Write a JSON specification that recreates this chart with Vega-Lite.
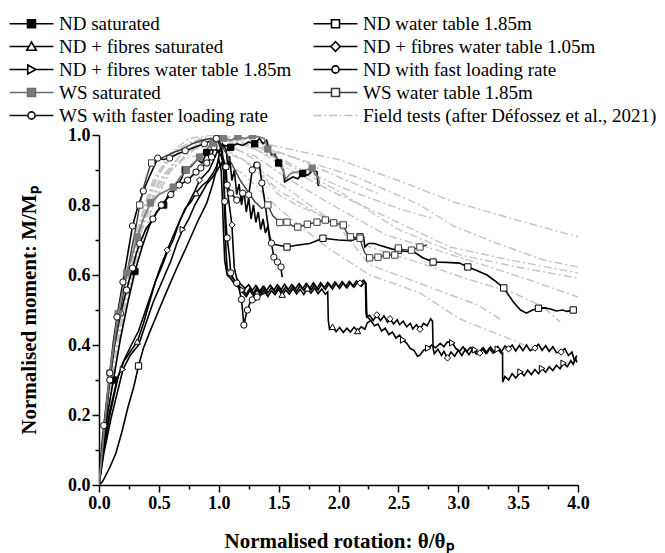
{
  "$schema": "https://vega.github.io/schema/vega-lite/v6.json",
  "width": 479,
  "height": 350,
  "autosize": {"type": "none"},
  "padding": {"left": 99, "top": 135, "right": 87, "bottom": 68},
  "background": "white",
  "config": {
    "font": "Liberation Serif",
    "view": {"stroke": null},
    "axis": {"grid": false, "domainColor": "#000", "domainWidth": 1.5, "tickColor": "#000", "tickWidth": 1.5, "labelFont": "Liberation Serif", "labelFontSize": 18, "labelFontWeight": "bold", "labelColor": "#000", "labelPadding": 2, "labelFlush": false, "labelOverlap": false, "titleFont": "Liberation Serif", "titleFontSize": 21, "titleFontWeight": "bold", "titleColor": "#000"},
    "legend": {"title": null, "orient": "none", "legendX": -77, "legendY": -121, "columns": 2, "columnPadding": 18, "rowPadding": 3, "gridAlign": "each", "symbolSize": 100, "symbolStrokeWidth": 1.6, "symbolOpacity": 1, "labelFont": "Liberation Serif", "labelFontSize": 19, "labelColor": "#000", "labelOffset": 18, "labelLimit": 400}
  },
  "datasets": {
    "names": [
      {"id": "S1", "series": "ND saturated"},
      {"id": "S2", "series": "ND water table 1.85m"},
      {"id": "S3", "series": "ND + fibres saturated"},
      {"id": "S4", "series": "ND + fibres water table 1.05m"},
      {"id": "S5", "series": "ND + fibres water table 1.85m"},
      {"id": "S6", "series": "ND with fast loading rate"},
      {"id": "S7", "series": "WS saturated"},
      {"id": "S8", "series": "WS water table 1.85m"},
      {"id": "S9", "series": "WS with faster loading rate"}
    ],
    "field": [
      {"curve":"F1","x":0,"y":0},{"curve":"F1","x":0.05,"y":0.16},{"curve":"F1","x":0.1,"y":0.3},{"curve":"F1","x":0.2,"y":0.54},{"curve":"F1","x":0.3,"y":0.71},{"curve":"F1","x":0.45,"y":0.87},{"curve":"F1","x":0.6,"y":0.95},{"curve":"F1","x":0.75,"y":0.99},{"curve":"F1","x":0.95,"y":1.0},{"curve":"F1","x":1.2,"y":0.99},{"curve":"F1","x":1.5,"y":0.966},{"curve":"F1","x":2.0,"y":0.93},{"curve":"F1","x":2.5,"y":0.87},{"curve":"F1","x":2.96,"y":0.809},{"curve":"F1","x":3.49,"y":0.757},{"curve":"F1","x":4.0,"y":0.709},
      {"curve":"F2","x":0,"y":0},{"curve":"F2","x":0.06,"y":0.18},{"curve":"F2","x":0.14,"y":0.39},{"curve":"F2","x":0.25,"y":0.6},{"curve":"F2","x":0.35,"y":0.75},{"curve":"F2","x":0.5,"y":0.89},{"curve":"F2","x":0.65,"y":0.96},{"curve":"F2","x":0.85,"y":0.99},{"curve":"F2","x":1.1,"y":0.985},{"curve":"F2","x":1.51,"y":0.948},{"curve":"F2","x":2.15,"y":0.88},{"curve":"F2","x":2.68,"y":0.8},{"curve":"F2","x":2.96,"y":0.74},{"curve":"F2","x":3.32,"y":0.691},{"curve":"F2","x":3.71,"y":0.643},{"curve":"F2","x":4.0,"y":0.623},
      {"curve":"F3","x":0,"y":0},{"curve":"F3","x":0.08,"y":0.21},{"curve":"F3","x":0.18,"y":0.43},{"curve":"F3","x":0.3,"y":0.63},{"curve":"F3","x":0.45,"y":0.8},{"curve":"F3","x":0.6,"y":0.9},{"curve":"F3","x":0.8,"y":0.97},{"curve":"F3","x":1.0,"y":0.99},{"curve":"F3","x":1.3,"y":0.96},{"curve":"F3","x":1.6,"y":0.9},{"curve":"F3","x":2.0,"y":0.83},{"curve":"F3","x":2.5,"y":0.75},{"curve":"F3","x":2.93,"y":0.68},{"curve":"F3","x":3.43,"y":0.643},{"curve":"F3","x":4.0,"y":0.606},
      {"curve":"F4","x":0,"y":0},{"curve":"F4","x":0.04,"y":0.14},{"curve":"F4","x":0.12,"y":0.36},{"curve":"F4","x":0.24,"y":0.6},{"curve":"F4","x":0.36,"y":0.77},{"curve":"F4","x":0.5,"y":0.89},{"curve":"F4","x":0.66,"y":0.96},{"curve":"F4","x":0.88,"y":0.995},{"curve":"F4","x":1.2,"y":0.975},{"curve":"F4","x":1.5,"y":0.93},{"curve":"F4","x":2.0,"y":0.84},{"curve":"F4","x":2.5,"y":0.73},{"curve":"F4","x":3.02,"y":0.657},{"curve":"F4","x":3.49,"y":0.623},{"curve":"F4","x":4.0,"y":0.591},
      {"curve":"F5","x":0,"y":0},{"curve":"F5","x":0.07,"y":0.19},{"curve":"F5","x":0.17,"y":0.41},{"curve":"F5","x":0.3,"y":0.63},{"curve":"F5","x":0.45,"y":0.8},{"curve":"F5","x":0.6,"y":0.9},{"curve":"F5","x":0.8,"y":0.96},{"curve":"F5","x":1.0,"y":0.975},{"curve":"F5","x":1.3,"y":0.94},{"curve":"F5","x":1.6,"y":0.87},{"curve":"F5","x":2.0,"y":0.79},{"curve":"F5","x":2.4,"y":0.714},{"curve":"F5","x":2.82,"y":0.671},{"curve":"F5","x":3.2,"y":0.63},{"curve":"F5","x":3.6,"y":0.585},{"curve":"F5","x":4.0,"y":0.537},
      {"curve":"F6","x":0,"y":0},{"curve":"F6","x":0.05,"y":0.15},{"curve":"F6","x":0.12,"y":0.34},{"curve":"F6","x":0.22,"y":0.55},{"curve":"F6","x":0.35,"y":0.74},{"curve":"F6","x":0.5,"y":0.87},{"curve":"F6","x":0.7,"y":0.95},{"curve":"F6","x":0.9,"y":0.97},{"curve":"F6","x":1.2,"y":0.93},{"curve":"F6","x":1.51,"y":0.84},{"curve":"F6","x":2.0,"y":0.74},{"curve":"F6","x":2.26,"y":0.68},{"curve":"F6","x":2.68,"y":0.634},{"curve":"F6","x":3.1,"y":0.586},{"curve":"F6","x":3.46,"y":0.549},{"curve":"F6","x":3.71,"y":0.509},{"curve":"F6","x":3.85,"y":0.466},
      {"curve":"F7","x":0,"y":0},{"curve":"F7","x":0.06,"y":0.19},{"curve":"F7","x":0.15,"y":0.41},{"curve":"F7","x":0.27,"y":0.61},{"curve":"F7","x":0.4,"y":0.78},{"curve":"F7","x":0.55,"y":0.88},{"curve":"F7","x":0.7,"y":0.93},{"curve":"F7","x":0.9,"y":0.95},{"curve":"F7","x":1.2,"y":0.89},{"curve":"F7","x":1.5,"y":0.79},{"curve":"F7","x":1.9,"y":0.68},{"curve":"F7","x":2.26,"y":0.6},{"curve":"F7","x":2.68,"y":0.549},{"curve":"F7","x":3.0,"y":0.477},{"curve":"F7","x":3.18,"y":0.451},{"curve":"F7","x":3.46,"y":0.414},{"curve":"F7","x":3.55,"y":0.4},
      {"curve":"F8","x":0,"y":0},{"curve":"F8","x":0.04,"y":0.15},{"curve":"F8","x":0.1,"y":0.32},{"curve":"F8","x":0.2,"y":0.55},{"curve":"F8","x":0.3,"y":0.7},{"curve":"F8","x":0.45,"y":0.86},{"curve":"F8","x":0.6,"y":0.94},{"curve":"F8","x":0.8,"y":0.98},{"curve":"F8","x":1.0,"y":0.97},{"curve":"F8","x":1.3,"y":0.91},{"curve":"F8","x":1.6,"y":0.84},{"curve":"F8","x":2.0,"y":0.74},{"curve":"F8","x":2.26,"y":0.629},{"curve":"F8","x":2.54,"y":0.594},{"curve":"F8","x":2.96,"y":0.54},{"curve":"F8","x":3.16,"y":0.515},{"curve":"F8","x":3.37,"y":0.47},
      {"curve":"F9","x":0,"y":0},{"curve":"F9","x":0.1,"y":0.29},{"curve":"F9","x":0.2,"y":0.51},{"curve":"F9","x":0.35,"y":0.73},{"curve":"F9","x":0.5,"y":0.87},{"curve":"F9","x":0.7,"y":0.95},{"curve":"F9","x":0.9,"y":0.99},{"curve":"F9","x":1.2,"y":0.985},{"curve":"F9","x":1.6,"y":0.94},{"curve":"F9","x":2.0,"y":0.88},{"curve":"F9","x":2.35,"y":0.83},
      {"curve":"F10","x":0,"y":0},{"curve":"F10","x":0.05,"y":0.17},{"curve":"F10","x":0.13,"y":0.38},{"curve":"F10","x":0.25,"y":0.62},{"curve":"F10","x":0.4,"y":0.82},{"curve":"F10","x":0.55,"y":0.92},{"curve":"F10","x":0.75,"y":0.98},{"curve":"F10","x":1.0,"y":0.995},{"curve":"F10","x":1.3,"y":0.97},{"curve":"F10","x":1.7,"y":0.9},{"curve":"F10","x":2.1,"y":0.84},{"curve":"F10","x":2.5,"y":0.79},{"curve":"F10","x":2.8,"y":0.76},
      {"curve":"F11","x":0,"y":0},{"curve":"F11","x":0.08,"y":0.22},{"curve":"F11","x":0.2,"y":0.48},{"curve":"F11","x":0.35,"y":0.72},{"curve":"F11","x":0.5,"y":0.86},{"curve":"F11","x":0.7,"y":0.95},{"curve":"F11","x":0.9,"y":0.98},{"curve":"F11","x":1.1,"y":0.97},{"curve":"F11","x":1.3,"y":0.93},{"curve":"F11","x":1.42,"y":0.86},{"curve":"F11","x":1.5,"y":0.83},{"curve":"F11","x":1.65,"y":0.8},{"curve":"F11","x":1.85,"y":0.77},{"curve":"F11","x":2.1,"y":0.74}
    ],
    "tests": [
      {"id":"S1","x":0,"y":0},{"id":"S1","x":0.03,"y":0.09},{"id":"S1","x":0.07,"y":0.2},{"id":"S1","x":0.12,"y":0.3},{"id":"S1","x":0.18,"y":0.42},{"id":"S1","x":0.24,"y":0.52},{"id":"S1","x":0.3,"y":0.61},{"id":"S1","x":0.36,"y":0.68},{"id":"S1","x":0.42,"y":0.74},{"id":"S1","x":0.48,"y":0.78},{"id":"S1","x":0.54,"y":0.8},{"id":"S1","x":0.58,"y":0.83},{"id":"S1","x":0.63,"y":0.85},{"id":"S1","x":0.68,"y":0.87},{"id":"S1","x":0.72,"y":0.9},{"id":"S1","x":0.77,"y":0.91},{"id":"S1","x":0.82,"y":0.93},{"id":"S1","x":0.86,"y":0.92},{"id":"S1","x":0.9,"y":0.95},{"id":"S1","x":0.95,"y":0.96},{"id":"S1","x":1.0,"y":0.955},{"id":"S1","x":1.05,"y":0.97},{"id":"S1","x":1.1,"y":0.965},{"id":"S1","x":1.15,"y":0.975},{"id":"S1","x":1.2,"y":0.97},{"id":"S1","x":1.25,"y":0.98},{"id":"S1","x":1.3,"y":0.975},{"id":"S1","x":1.34,"y":0.99},{"id":"S1","x":1.37,"y":0.975},{"id":"S1","x":1.4,"y":0.985},{"id":"S1","x":1.42,"y":0.96},{"id":"S1","x":1.44,"y":0.943},{"id":"S1","x":1.47,"y":0.945},{"id":"S1","x":1.5,"y":0.92},{"id":"S1","x":1.52,"y":0.91},{"id":"S1","x":1.54,"y":0.9},{"id":"S1","x":1.55,"y":0.866},{"id":"S1","x":1.58,"y":0.872},{"id":"S1","x":1.62,"y":0.88},{"id":"S1","x":1.66,"y":0.875},{"id":"S1","x":1.7,"y":0.89},{"id":"S1","x":1.74,"y":0.885},{"id":"S1","x":1.79,"y":0.9},{"id":"S1","x":1.82,"y":0.895},{"id":"S1","x":1.83,"y":0.857},{"id":"S1","x":1.84,"y":0.855},
      {"id":"S2","x":0,"y":0},{"id":"S2","x":0.03,"y":0.01},{"id":"S2","x":0.09,"y":0.05},{"id":"S2","x":0.14,"y":0.09},{"id":"S2","x":0.19,"y":0.15},{"id":"S2","x":0.24,"y":0.22},{"id":"S2","x":0.29,"y":0.28},{"id":"S2","x":0.33,"y":0.34},{"id":"S2","x":0.37,"y":0.39},{"id":"S2","x":0.42,"y":0.434},{"id":"S2","x":0.5,"y":0.5},{"id":"S2","x":0.56,"y":0.549},{"id":"S2","x":0.65,"y":0.62},{"id":"S2","x":0.73,"y":0.68},{"id":"S2","x":0.82,"y":0.75},{"id":"S2","x":0.9,"y":0.806},{"id":"S2","x":0.95,"y":0.86},{"id":"S2","x":0.98,"y":0.9},{"id":"S2","x":1.01,"y":0.957},{"id":"S2","x":1.03,"y":0.975},{"id":"S2","x":1.06,"y":0.96},{"id":"S2","x":1.08,"y":0.9},{"id":"S2","x":1.09,"y":0.94},{"id":"S2","x":1.11,"y":0.87},{"id":"S2","x":1.13,"y":0.9},{"id":"S2","x":1.15,"y":0.83},{"id":"S2","x":1.17,"y":0.86},{"id":"S2","x":1.19,"y":0.8},{"id":"S2","x":1.21,"y":0.84},{"id":"S2","x":1.23,"y":0.78},{"id":"S2","x":1.25,"y":0.82},{"id":"S2","x":1.27,"y":0.76},{"id":"S2","x":1.29,"y":0.8},{"id":"S2","x":1.31,"y":0.75},{"id":"S2","x":1.33,"y":0.78},{"id":"S2","x":1.35,"y":0.73},{"id":"S2","x":1.37,"y":0.76},{"id":"S2","x":1.39,"y":0.72},{"id":"S2","x":1.41,"y":0.74},{"id":"S2","x":1.43,"y":0.69},{"id":"S2","x":1.5,"y":0.685},{"id":"S2","x":1.57,"y":0.68},{"id":"S2","x":1.65,"y":0.685},{"id":"S2","x":1.76,"y":0.69},{"id":"S2","x":1.87,"y":0.705},{"id":"S2","x":2.0,"y":0.7},{"id":"S2","x":2.11,"y":0.698},{"id":"S2","x":2.18,"y":0.709},{"id":"S2","x":2.21,"y":0.709},{"id":"S2","x":2.22,"y":0.68},{"id":"S2","x":2.25,"y":0.69},{"id":"S2","x":2.3,"y":0.69},{"id":"S2","x":2.35,"y":0.684},{"id":"S2","x":2.45,"y":0.674},{"id":"S2","x":2.55,"y":0.668},{"id":"S2","x":2.63,"y":0.666},{"id":"S2","x":2.7,"y":0.65},{"id":"S2","x":2.79,"y":0.637},{"id":"S2","x":2.9,"y":0.636},{"id":"S2","x":3.01,"y":0.634},{"id":"S2","x":3.08,"y":0.623},{"id":"S2","x":3.16,"y":0.612},{"id":"S2","x":3.24,"y":0.6},{"id":"S2","x":3.3,"y":0.585},{"id":"S2","x":3.38,"y":0.563},{"id":"S2","x":3.46,"y":0.523},{"id":"S2","x":3.52,"y":0.5},{"id":"S2","x":3.57,"y":0.491},{"id":"S2","x":3.62,"y":0.5},{"id":"S2","x":3.67,"y":0.505},{"id":"S2","x":3.72,"y":0.506},{"id":"S2","x":3.77,"y":0.503},{"id":"S2","x":3.82,"y":0.497},{"id":"S2","x":3.87,"y":0.5},{"id":"S2","x":3.91,"y":0.496},{"id":"S2","x":3.96,"y":0.5},
      {"id":"S3","x":0,"y":0},{"id":"S3","x":0.04,"y":0.1},{"id":"S3","x":0.09,"y":0.2},{"id":"S3","x":0.16,"y":0.31},{"id":"S3","x":0.21,"y":0.355},{"id":"S3","x":0.26,"y":0.38},{"id":"S3","x":0.32,"y":0.41},{"id":"S3","x":0.37,"y":0.46},{"id":"S3","x":0.42,"y":0.52},{"id":"S3","x":0.47,"y":0.58},{"id":"S3","x":0.52,"y":0.62},{"id":"S3","x":0.57,"y":0.665},{"id":"S3","x":0.62,"y":0.7},{"id":"S3","x":0.67,"y":0.75},{"id":"S3","x":0.72,"y":0.79},{"id":"S3","x":0.77,"y":0.81},{"id":"S3","x":0.81,"y":0.834},{"id":"S3","x":0.86,"y":0.855},{"id":"S3","x":0.91,"y":0.87},{"id":"S3","x":0.95,"y":0.89},{"id":"S3","x":0.98,"y":0.91},{"id":"S3","x":1.0,"y":0.93},{"id":"S3","x":1.02,"y":0.9},{"id":"S3","x":1.03,"y":0.82},{"id":"S3","x":1.04,"y":0.72},{"id":"S3","x":1.05,"y":0.64},{"id":"S3","x":1.07,"y":0.6},{"id":"S3","x":1.1,"y":0.59},{"id":"S3","x":1.14,"y":0.57},{"id":"S3","x":1.17,"y":0.565},{"id":"S3","x":1.2,"y":0.55},{"id":"S3","x":1.23,"y":0.538},{"id":"S3","x":1.26,"y":0.556},{"id":"S3","x":1.29,"y":0.541},{"id":"S3","x":1.32,"y":0.558},{"id":"S3","x":1.35,"y":0.543},{"id":"S3","x":1.38,"y":0.557},{"id":"S3","x":1.41,"y":0.539},{"id":"S3","x":1.44,"y":0.555},{"id":"S3","x":1.47,"y":0.544},{"id":"S3","x":1.5,"y":0.56},{"id":"S3","x":1.53,"y":0.543},{"id":"S3","x":1.56,"y":0.557},{"id":"S3","x":1.59,"y":0.545},{"id":"S3","x":1.62,"y":0.561},{"id":"S3","x":1.65,"y":0.546},{"id":"S3","x":1.68,"y":0.559},{"id":"S3","x":1.71,"y":0.544},{"id":"S3","x":1.74,"y":0.562},{"id":"S3","x":1.77,"y":0.548},{"id":"S3","x":1.8,"y":0.563},{"id":"S3","x":1.83,"y":0.547},{"id":"S3","x":1.86,"y":0.56},{"id":"S3","x":1.89,"y":0.545},{"id":"S3","x":1.91,"y":0.552},{"id":"S3","x":1.915,"y":0.47},{"id":"S3","x":1.925,"y":0.445},{"id":"S3","x":1.95,"y":0.452},{"id":"S3","x":1.98,"y":0.438},{"id":"S3","x":2.01,"y":0.45},{"id":"S3","x":2.04,"y":0.436},{"id":"S3","x":2.07,"y":0.448},{"id":"S3","x":2.1,"y":0.437},{"id":"S3","x":2.13,"y":0.451},{"id":"S3","x":2.16,"y":0.44},{"id":"S3","x":2.19,"y":0.452},{"id":"S3","x":2.22,"y":0.445},{"id":"S3","x":2.24,"y":0.463},{"id":"S3","x":2.27,"y":0.47},
      {"id":"S4","x":0,"y":0},{"id":"S4","x":0.04,"y":0.11},{"id":"S4","x":0.09,"y":0.21},{"id":"S4","x":0.15,"y":0.3},{"id":"S4","x":0.2,"y":0.35},{"id":"S4","x":0.27,"y":0.4},{"id":"S4","x":0.33,"y":0.44},{"id":"S4","x":0.4,"y":0.51},{"id":"S4","x":0.45,"y":0.56},{"id":"S4","x":0.51,"y":0.62},{"id":"S4","x":0.57,"y":0.671},{"id":"S4","x":0.63,"y":0.72},{"id":"S4","x":0.68,"y":0.76},{"id":"S4","x":0.74,"y":0.8},{"id":"S4","x":0.8,"y":0.84},{"id":"S4","x":0.84,"y":0.871},{"id":"S4","x":0.88,"y":0.885},{"id":"S4","x":0.92,"y":0.9},{"id":"S4","x":0.96,"y":0.93},{"id":"S4","x":0.99,"y":0.955},{"id":"S4","x":1.02,"y":0.94},{"id":"S4","x":1.05,"y":0.9},{"id":"S4","x":1.08,"y":0.82},{"id":"S4","x":1.1,"y":0.77},{"id":"S4","x":1.11,"y":0.743},{"id":"S4","x":1.12,"y":0.68},{"id":"S4","x":1.13,"y":0.62},{"id":"S4","x":1.15,"y":0.59},{"id":"S4","x":1.18,"y":0.575},{"id":"S4","x":1.22,"y":0.562},{"id":"S4","x":1.25,"y":0.572},{"id":"S4","x":1.28,"y":0.556},{"id":"S4","x":1.31,"y":0.57},{"id":"S4","x":1.34,"y":0.553},{"id":"S4","x":1.37,"y":0.568},{"id":"S4","x":1.4,"y":0.556},{"id":"S4","x":1.43,"y":0.571},{"id":"S4","x":1.46,"y":0.557},{"id":"S4","x":1.49,"y":0.572},{"id":"S4","x":1.52,"y":0.558},{"id":"S4","x":1.55,"y":0.574},{"id":"S4","x":1.58,"y":0.559},{"id":"S4","x":1.61,"y":0.573},{"id":"S4","x":1.64,"y":0.56},{"id":"S4","x":1.67,"y":0.575},{"id":"S4","x":1.7,"y":0.561},{"id":"S4","x":1.73,"y":0.576},{"id":"S4","x":1.76,"y":0.562},{"id":"S4","x":1.79,"y":0.577},{"id":"S4","x":1.82,"y":0.561},{"id":"S4","x":1.85,"y":0.578},{"id":"S4","x":1.88,"y":0.563},{"id":"S4","x":1.91,"y":0.579},{"id":"S4","x":1.94,"y":0.564},{"id":"S4","x":1.97,"y":0.58},{"id":"S4","x":2.0,"y":0.566},{"id":"S4","x":2.03,"y":0.581},{"id":"S4","x":2.06,"y":0.567},{"id":"S4","x":2.09,"y":0.582},{"id":"S4","x":2.12,"y":0.568},{"id":"S4","x":2.15,"y":0.583},{"id":"S4","x":2.18,"y":0.577},{"id":"S4","x":2.21,"y":0.585},{"id":"S4","x":2.225,"y":0.578},{"id":"S4","x":2.23,"y":0.49},{"id":"S4","x":2.235,"y":0.48},{"id":"S4","x":2.26,"y":0.485},{"id":"S4","x":2.29,"y":0.47},{"id":"S4","x":2.32,"y":0.486},{"id":"S4","x":2.35,"y":0.47},{"id":"S4","x":2.38,"y":0.483},{"id":"S4","x":2.41,"y":0.465},{"id":"S4","x":2.43,"y":0.475},{"id":"S4","x":2.46,"y":0.46},{"id":"S4","x":2.49,"y":0.472},{"id":"S4","x":2.51,"y":0.458},{"id":"S4","x":2.54,"y":0.468},{"id":"S4","x":2.57,"y":0.452},{"id":"S4","x":2.6,"y":0.462},{"id":"S4","x":2.62,"y":0.446},{"id":"S4","x":2.65,"y":0.458},{"id":"S4","x":2.68,"y":0.445},{"id":"S4","x":2.71,"y":0.462},{"id":"S4","x":2.74,"y":0.455},{"id":"S4","x":2.77,"y":0.475},{"id":"S4","x":2.785,"y":0.468},{"id":"S4","x":2.79,"y":0.39},{"id":"S4","x":2.8,"y":0.375},{"id":"S4","x":2.83,"y":0.388},{"id":"S4","x":2.86,"y":0.37},{"id":"S4","x":2.88,"y":0.382},{"id":"S4","x":2.91,"y":0.363},{"id":"S4","x":2.94,"y":0.38},{"id":"S4","x":2.97,"y":0.368},{"id":"S4","x":3.0,"y":0.385},{"id":"S4","x":3.03,"y":0.37},{"id":"S4","x":3.06,"y":0.388},{"id":"S4","x":3.09,"y":0.372},{"id":"S4","x":3.12,"y":0.39},{"id":"S4","x":3.15,"y":0.374},{"id":"S4","x":3.18,"y":0.377},{"id":"S4","x":3.21,"y":0.392},{"id":"S4","x":3.24,"y":0.377},{"id":"S4","x":3.27,"y":0.394},{"id":"S4","x":3.3,"y":0.379},{"id":"S4","x":3.33,"y":0.396},{"id":"S4","x":3.36,"y":0.38},{"id":"S4","x":3.39,"y":0.397},{"id":"S4","x":3.42,"y":0.389},{"id":"S4","x":3.45,"y":0.4},{"id":"S4","x":3.48,"y":0.383},{"id":"S4","x":3.51,"y":0.399},{"id":"S4","x":3.54,"y":0.384},{"id":"S4","x":3.57,"y":0.4},{"id":"S4","x":3.6,"y":0.384},{"id":"S4","x":3.64,"y":0.391},{"id":"S4","x":3.67,"y":0.402},{"id":"S4","x":3.7,"y":0.385},{"id":"S4","x":3.73,"y":0.398},{"id":"S4","x":3.76,"y":0.382},{"id":"S4","x":3.79,"y":0.395},{"id":"S4","x":3.82,"y":0.378},{"id":"S4","x":3.86,"y":0.38},{"id":"S4","x":3.89,"y":0.39},{"id":"S4","x":3.92,"y":0.37},{"id":"S4","x":3.95,"y":0.38},{"id":"S4","x":3.97,"y":0.355},{"id":"S4","x":3.99,"y":0.37},
      {"id":"S5","x":0,"y":0},{"id":"S5","x":0.04,"y":0.09},{"id":"S5","x":0.1,"y":0.19},{"id":"S5","x":0.2,"y":0.33},{"id":"S5","x":0.26,"y":0.37},{"id":"S5","x":0.33,"y":0.4},{"id":"S5","x":0.4,"y":0.47},{"id":"S5","x":0.45,"y":0.52},{"id":"S5","x":0.5,"y":0.56},{"id":"S5","x":0.55,"y":0.6},{"id":"S5","x":0.6,"y":0.64},{"id":"S5","x":0.65,"y":0.69},{"id":"S5","x":0.7,"y":0.73},{"id":"S5","x":0.75,"y":0.76},{"id":"S5","x":0.8,"y":0.8},{"id":"S5","x":0.85,"y":0.83},{"id":"S5","x":0.9,"y":0.86},{"id":"S5","x":0.95,"y":0.88},{"id":"S5","x":0.99,"y":0.9},{"id":"S5","x":1.02,"y":0.92},{"id":"S5","x":1.04,"y":0.9},{"id":"S5","x":1.05,"y":0.78},{"id":"S5","x":1.06,"y":0.67},{"id":"S5","x":1.07,"y":0.62},{"id":"S5","x":1.1,"y":0.6},{"id":"S5","x":1.14,"y":0.58},{"id":"S5","x":1.2,"y":0.557},{"id":"S5","x":1.23,"y":0.545},{"id":"S5","x":1.26,"y":0.562},{"id":"S5","x":1.29,"y":0.548},{"id":"S5","x":1.32,"y":0.565},{"id":"S5","x":1.35,"y":0.55},{"id":"S5","x":1.38,"y":0.566},{"id":"S5","x":1.41,"y":0.549},{"id":"S5","x":1.44,"y":0.564},{"id":"S5","x":1.47,"y":0.551},{"id":"S5","x":1.5,"y":0.567},{"id":"S5","x":1.53,"y":0.552},{"id":"S5","x":1.56,"y":0.566},{"id":"S5","x":1.59,"y":0.553},{"id":"S5","x":1.62,"y":0.569},{"id":"S5","x":1.65,"y":0.554},{"id":"S5","x":1.68,"y":0.57},{"id":"S5","x":1.71,"y":0.556},{"id":"S5","x":1.74,"y":0.572},{"id":"S5","x":1.77,"y":0.557},{"id":"S5","x":1.8,"y":0.573},{"id":"S5","x":1.83,"y":0.558},{"id":"S5","x":1.86,"y":0.574},{"id":"S5","x":1.89,"y":0.559},{"id":"S5","x":1.92,"y":0.575},{"id":"S5","x":1.95,"y":0.56},{"id":"S5","x":1.98,"y":0.576},{"id":"S5","x":2.01,"y":0.562},{"id":"S5","x":2.04,"y":0.577},{"id":"S5","x":2.07,"y":0.563},{"id":"S5","x":2.1,"y":0.578},{"id":"S5","x":2.13,"y":0.565},{"id":"S5","x":2.16,"y":0.58},{"id":"S5","x":2.19,"y":0.568},{"id":"S5","x":2.22,"y":0.58},{"id":"S5","x":2.23,"y":0.575},{"id":"S5","x":2.235,"y":0.5},{"id":"S5","x":2.24,"y":0.48},{"id":"S5","x":2.27,"y":0.47},{"id":"S5","x":2.3,"y":0.455},{"id":"S5","x":2.33,"y":0.46},{"id":"S5","x":2.36,"y":0.44},{"id":"S5","x":2.39,"y":0.448},{"id":"S5","x":2.42,"y":0.43},{"id":"S5","x":2.45,"y":0.437},{"id":"S5","x":2.48,"y":0.42},{"id":"S5","x":2.51,"y":0.428},{"id":"S5","x":2.54,"y":0.414},{"id":"S5","x":2.57,"y":0.405},{"id":"S5","x":2.6,"y":0.39},{"id":"S5","x":2.63,"y":0.385},{"id":"S5","x":2.66,"y":0.368},{"id":"S5","x":2.68,"y":0.371},{"id":"S5","x":2.71,"y":0.385},{"id":"S5","x":2.75,"y":0.391},{"id":"S5","x":2.78,"y":0.4},{"id":"S5","x":2.81,"y":0.392},{"id":"S5","x":2.85,"y":0.405},{"id":"S5","x":2.88,"y":0.395},{"id":"S5","x":2.91,"y":0.409},{"id":"S5","x":2.95,"y":0.406},{"id":"S5","x":2.98,"y":0.39},{"id":"S5","x":3.01,"y":0.382},{"id":"S5","x":3.04,"y":0.395},{"id":"S5","x":3.07,"y":0.38},{"id":"S5","x":3.1,"y":0.393},{"id":"S5","x":3.14,"y":0.386},{"id":"S5","x":3.17,"y":0.375},{"id":"S5","x":3.2,"y":0.39},{"id":"S5","x":3.23,"y":0.376},{"id":"S5","x":3.26,"y":0.391},{"id":"S5","x":3.29,"y":0.377},{"id":"S5","x":3.33,"y":0.388},{"id":"S5","x":3.36,"y":0.376},{"id":"S5","x":3.37,"y":0.377},{"id":"S5","x":3.371,"y":0.294},{"id":"S5","x":3.39,"y":0.31},{"id":"S5","x":3.42,"y":0.3},{"id":"S5","x":3.45,"y":0.318},{"id":"S5","x":3.48,"y":0.306},{"id":"S5","x":3.52,"y":0.323},{"id":"S5","x":3.55,"y":0.312},{"id":"S5","x":3.58,"y":0.328},{"id":"S5","x":3.61,"y":0.315},{"id":"S5","x":3.64,"y":0.33},{"id":"S5","x":3.67,"y":0.318},{"id":"S5","x":3.7,"y":0.333},{"id":"S5","x":3.73,"y":0.322},{"id":"S5","x":3.76,"y":0.338},{"id":"S5","x":3.79,"y":0.327},{"id":"S5","x":3.82,"y":0.342},{"id":"S5","x":3.85,"y":0.332},{"id":"S5","x":3.88,"y":0.348},{"id":"S5","x":3.91,"y":0.338},{"id":"S5","x":3.94,"y":0.355},{"id":"S5","x":3.96,"y":0.345},{"id":"S5","x":3.98,"y":0.362},{"id":"S5","x":3.99,"y":0.35},
      {"id":"S6","x":0,"y":0},{"id":"S6","x":0.03,"y":0.1},{"id":"S6","x":0.06,"y":0.2},{"id":"S6","x":0.09,"y":0.3},{"id":"S6","x":0.13,"y":0.4},{"id":"S6","x":0.18,"y":0.49},{"id":"S6","x":0.23,"y":0.557},{"id":"S6","x":0.28,"y":0.62},{"id":"S6","x":0.31,"y":0.66},{"id":"S6","x":0.34,"y":0.69},{"id":"S6","x":0.39,"y":0.73},{"id":"S6","x":0.45,"y":0.76},{"id":"S6","x":0.52,"y":0.8},{"id":"S6","x":0.6,"y":0.83},{"id":"S6","x":0.67,"y":0.857},{"id":"S6","x":0.74,"y":0.871},{"id":"S6","x":0.81,"y":0.894},{"id":"S6","x":0.85,"y":0.906},{"id":"S6","x":0.9,"y":0.92},{"id":"S6","x":0.94,"y":0.937},{"id":"S6","x":0.96,"y":0.966},{"id":"S6","x":0.99,"y":0.99},{"id":"S6","x":1.01,"y":0.98},{"id":"S6","x":1.03,"y":0.95},{"id":"S6","x":1.04,"y":0.91},{"id":"S6","x":1.05,"y":0.81},{"id":"S6","x":1.06,"y":0.75},{"id":"S6","x":1.07,"y":0.706},{"id":"S6","x":1.09,"y":0.65},{"id":"S6","x":1.1,"y":0.606},{"id":"S6","x":1.12,"y":0.59},{"id":"S6","x":1.15,"y":0.577},{"id":"S6","x":1.17,"y":0.56},{"id":"S6","x":1.19,"y":0.53},{"id":"S6","x":1.21,"y":0.457},{"id":"S6","x":1.23,"y":0.49},{"id":"S6","x":1.24,"y":0.5},{"id":"S6","x":1.26,"y":0.52},{"id":"S6","x":1.28,"y":0.529},{"id":"S6","x":1.32,"y":0.537},{"id":"S6","x":1.36,"y":0.545},{"id":"S6","x":1.4,"y":0.55},
      {"id":"S7","x":0,"y":0},{"id":"S7","x":0.03,"y":0.11},{"id":"S7","x":0.06,"y":0.22},{"id":"S7","x":0.09,"y":0.32},{"id":"S7","x":0.13,"y":0.42},{"id":"S7","x":0.16,"y":0.49},{"id":"S7","x":0.2,"y":0.56},{"id":"S7","x":0.23,"y":0.606},{"id":"S7","x":0.28,"y":0.66},{"id":"S7","x":0.32,"y":0.709},{"id":"S7","x":0.37,"y":0.76},{"id":"S7","x":0.43,"y":0.806},{"id":"S7","x":0.5,"y":0.83},{"id":"S7","x":0.56,"y":0.84},{"id":"S7","x":0.62,"y":0.851},{"id":"S7","x":0.68,"y":0.88},{"id":"S7","x":0.73,"y":0.9},{"id":"S7","x":0.79,"y":0.92},{"id":"S7","x":0.84,"y":0.937},{"id":"S7","x":0.9,"y":0.96},{"id":"S7","x":0.95,"y":0.977},{"id":"S7","x":1.0,"y":0.985},{"id":"S7","x":1.04,"y":0.991},{"id":"S7","x":1.1,"y":0.985},{"id":"S7","x":1.16,"y":0.995},{"id":"S7","x":1.22,"y":0.99},{"id":"S7","x":1.28,"y":0.998},{"id":"S7","x":1.34,"y":0.994},{"id":"S7","x":1.38,"y":0.99},{"id":"S7","x":1.41,"y":0.96},{"id":"S7","x":1.45,"y":0.945},{"id":"S7","x":1.5,"y":0.93},{"id":"S7","x":1.53,"y":0.905},{"id":"S7","x":1.56,"y":0.875},{"id":"S7","x":1.6,"y":0.89},{"id":"S7","x":1.66,"y":0.895},{"id":"S7","x":1.72,"y":0.9},{"id":"S7","x":1.78,"y":0.905},{"id":"S7","x":1.8,"y":0.89},{"id":"S7","x":1.83,"y":0.88},{"id":"S7","x":1.84,"y":0.86},
      {"id":"S8","x":0,"y":0},{"id":"S8","x":0.02,"y":0.08},{"id":"S8","x":0.05,"y":0.18},{"id":"S8","x":0.09,"y":0.3},{"id":"S8","x":0.13,"y":0.4},{"id":"S8","x":0.17,"y":0.48},{"id":"S8","x":0.22,"y":0.58},{"id":"S8","x":0.27,"y":0.67},{"id":"S8","x":0.31,"y":0.74},{"id":"S8","x":0.34,"y":0.8},{"id":"S8","x":0.38,"y":0.86},{"id":"S8","x":0.42,"y":0.905},{"id":"S8","x":0.44,"y":0.92},{"id":"S8","x":0.48,"y":0.93},{"id":"S8","x":0.54,"y":0.937},{"id":"S8","x":0.62,"y":0.95},{"id":"S8","x":0.7,"y":0.96},{"id":"S8","x":0.78,"y":0.975},{"id":"S8","x":0.86,"y":0.985},{"id":"S8","x":0.93,"y":0.99},{"id":"S8","x":1.0,"y":0.98},{"id":"S8","x":1.06,"y":0.95},{"id":"S8","x":1.12,"y":0.91},{"id":"S8","x":1.18,"y":0.87},{"id":"S8","x":1.24,"y":0.84},{"id":"S8","x":1.3,"y":0.81},{"id":"S8","x":1.36,"y":0.79},{"id":"S8","x":1.41,"y":0.8},{"id":"S8","x":1.45,"y":0.77},{"id":"S8","x":1.51,"y":0.75},{"id":"S8","x":1.57,"y":0.751},{"id":"S8","x":1.62,"y":0.74},{"id":"S8","x":1.66,"y":0.737},{"id":"S8","x":1.74,"y":0.745},{"id":"S8","x":1.82,"y":0.751},{"id":"S8","x":1.89,"y":0.757},{"id":"S8","x":1.96,"y":0.749},{"id":"S8","x":2.04,"y":0.743},{"id":"S8","x":2.07,"y":0.72},{"id":"S8","x":2.1,"y":0.709},{"id":"S8","x":2.18,"y":0.705},{"id":"S8","x":2.2,"y":0.68},{"id":"S8","x":2.22,"y":0.663},{"id":"S8","x":2.26,"y":0.649},{"id":"S8","x":2.33,"y":0.651},{"id":"S8","x":2.4,"y":0.657},{"id":"S8","x":2.47,"y":0.657},{"id":"S8","x":2.5,"y":0.677},{"id":"S8","x":2.55,"y":0.672},{"id":"S8","x":2.61,"y":0.671},{"id":"S8","x":2.68,"y":0.68},{"id":"S8","x":2.74,"y":0.686},
      {"id":"S9","x":0,"y":0},{"id":"S9","x":0.02,"y":0.1},{"id":"S9","x":0.04,"y":0.17},{"id":"S9","x":0.07,"y":0.26},{"id":"S9","x":0.09,"y":0.32},{"id":"S9","x":0.12,"y":0.41},{"id":"S9","x":0.15,"y":0.48},{"id":"S9","x":0.2,"y":0.58},{"id":"S9","x":0.24,"y":0.66},{"id":"S9","x":0.28,"y":0.74},{"id":"S9","x":0.32,"y":0.79},{"id":"S9","x":0.37,"y":0.84},{"id":"S9","x":0.42,"y":0.88},{"id":"S9","x":0.46,"y":0.91},{"id":"S9","x":0.49,"y":0.934},{"id":"S9","x":0.54,"y":0.93},{"id":"S9","x":0.59,"y":0.934},{"id":"S9","x":0.65,"y":0.945},{"id":"S9","x":0.72,"y":0.955},{"id":"S9","x":0.8,"y":0.965},{"id":"S9","x":0.88,"y":0.975},{"id":"S9","x":0.94,"y":0.985},{"id":"S9","x":0.98,"y":0.99},{"id":"S9","x":1.01,"y":0.97},{"id":"S9","x":1.03,"y":0.94},{"id":"S9","x":1.06,"y":0.909},{"id":"S9","x":1.07,"y":0.857},{"id":"S9","x":1.1,"y":0.834},{"id":"S9","x":1.15,"y":0.814},{"id":"S9","x":1.18,"y":0.814},{"id":"S9","x":1.2,"y":0.834},{"id":"S9","x":1.25,"y":0.829},{"id":"S9","x":1.28,"y":0.9},{"id":"S9","x":1.3,"y":0.92},{"id":"S9","x":1.32,"y":0.914},{"id":"S9","x":1.34,"y":0.914},{"id":"S9","x":1.36,"y":0.863},{"id":"S9","x":1.38,"y":0.82},{"id":"S9","x":1.4,"y":0.77},{"id":"S9","x":1.42,"y":0.72},{"id":"S9","x":1.44,"y":0.691},{"id":"S9","x":1.46,"y":0.651},{"id":"S9","x":1.49,"y":0.637},{"id":"S9","x":1.52,"y":0.623},{"id":"S9","x":1.525,"y":0.606},{"id":"S9","x":1.53,"y":0.594}
    ],
    "markers": [
      {"id":"S1","x":0.12,"y":0.3},{"id":"S1","x":0.3,"y":0.61},{"id":"S1","x":0.54,"y":0.8},{"id":"S1","x":0.72,"y":0.9},{"id":"S1","x":0.9,"y":0.95},{"id":"S1","x":1.1,"y":0.965},{"id":"S1","x":1.3,"y":0.975},{"id":"S1","x":1.5,"y":0.92},{"id":"S1","x":1.7,"y":0.89},
      {"id":"S2","x":0.33,"y":0.34},{"id":"S2","x":1.57,"y":0.68},{"id":"S2","x":1.87,"y":0.705},{"id":"S2","x":2.18,"y":0.709},{"id":"S2","x":2.5,"y":0.671},{"id":"S2","x":2.79,"y":0.637},{"id":"S2","x":3.08,"y":0.623},{"id":"S2","x":3.38,"y":0.563},{"id":"S2","x":3.67,"y":0.505},{"id":"S2","x":3.96,"y":0.5},
      {"id":"S3","x":0.32,"y":0.41},{"id":"S3","x":0.81,"y":0.834},{"id":"S3","x":1.53,"y":0.544},{"id":"S3","x":1.74,"y":0.562},{"id":"S3","x":1.95,"y":0.452},{"id":"S3","x":2.16,"y":0.44},
      {"id":"S4","x":0.57,"y":0.671},{"id":"S4","x":0.84,"y":0.871},{"id":"S4","x":1.11,"y":0.743},{"id":"S4","x":2.18,"y":0.577},{"id":"S4","x":2.32,"y":0.486},{"id":"S4","x":2.43,"y":0.475},{"id":"S4","x":2.68,"y":0.445},{"id":"S4","x":2.91,"y":0.363},{"id":"S4","x":3.18,"y":0.377},{"id":"S4","x":3.42,"y":0.389},{"id":"S4","x":3.64,"y":0.391},{"id":"S4","x":3.86,"y":0.38},
      {"id":"S5","x":0.2,"y":0.33},{"id":"S5","x":0.7,"y":0.73},{"id":"S5","x":1.2,"y":0.557},{"id":"S5","x":2.54,"y":0.414},{"id":"S5","x":2.75,"y":0.391},{"id":"S5","x":2.95,"y":0.406},{"id":"S5","x":3.14,"y":0.386},{"id":"S5","x":3.33,"y":0.388},{"id":"S5","x":3.52,"y":0.323},{"id":"S5","x":3.7,"y":0.333},{"id":"S5","x":3.88,"y":0.348},
      {"id":"S6","x":0.09,"y":0.3},{"id":"S6","x":0.18,"y":0.49},{"id":"S6","x":0.23,"y":0.557},{"id":"S6","x":0.28,"y":0.62},{"id":"S6","x":0.34,"y":0.69},{"id":"S6","x":0.45,"y":0.76},{"id":"S6","x":0.52,"y":0.8},{"id":"S6","x":0.6,"y":0.83},{"id":"S6","x":0.67,"y":0.857},{"id":"S6","x":0.74,"y":0.871},{"id":"S6","x":0.81,"y":0.894},{"id":"S6","x":0.85,"y":0.906},{"id":"S6","x":0.9,"y":0.92},{"id":"S6","x":0.94,"y":0.937},{"id":"S6","x":0.96,"y":0.966},{"id":"S6","x":0.99,"y":0.99},{"id":"S6","x":1.05,"y":0.81},{"id":"S6","x":1.07,"y":0.706},{"id":"S6","x":1.1,"y":0.606},{"id":"S6","x":1.15,"y":0.577},{"id":"S6","x":1.19,"y":0.53},{"id":"S6","x":1.21,"y":0.457},{"id":"S6","x":1.24,"y":0.5},{"id":"S6","x":1.28,"y":0.529},{"id":"S6","x":1.32,"y":0.537},
      {"id":"S7","x":0.09,"y":0.32},{"id":"S7","x":0.16,"y":0.49},{"id":"S7","x":0.23,"y":0.606},{"id":"S7","x":0.32,"y":0.709},{"id":"S7","x":0.43,"y":0.806},{"id":"S7","x":0.62,"y":0.851},{"id":"S7","x":0.73,"y":0.9},{"id":"S7","x":0.84,"y":0.937},{"id":"S7","x":0.95,"y":0.977},{"id":"S7","x":1.04,"y":0.991},{"id":"S7","x":1.16,"y":0.995},{"id":"S7","x":1.28,"y":0.998},{"id":"S7","x":1.41,"y":0.96},{"id":"S7","x":1.78,"y":0.905},
      {"id":"S8","x":0.34,"y":0.8},{"id":"S8","x":0.44,"y":0.92},{"id":"S8","x":1.41,"y":0.8},{"id":"S8","x":1.51,"y":0.75},{"id":"S8","x":1.57,"y":0.751},{"id":"S8","x":1.66,"y":0.737},{"id":"S8","x":1.74,"y":0.745},{"id":"S8","x":1.82,"y":0.751},{"id":"S8","x":1.89,"y":0.757},{"id":"S8","x":1.96,"y":0.749},{"id":"S8","x":2.04,"y":0.743},{"id":"S8","x":2.1,"y":0.709},{"id":"S8","x":2.18,"y":0.705},{"id":"S8","x":2.26,"y":0.649},{"id":"S8","x":2.33,"y":0.651},{"id":"S8","x":2.4,"y":0.657},{"id":"S8","x":2.47,"y":0.657},{"id":"S8","x":2.5,"y":0.677},{"id":"S8","x":2.61,"y":0.671},{"id":"S8","x":2.68,"y":0.68},
      {"id":"S9","x":0.04,"y":0.17},{"id":"S9","x":0.09,"y":0.32},{"id":"S9","x":0.15,"y":0.48},{"id":"S9","x":0.2,"y":0.58},{"id":"S9","x":0.28,"y":0.74},{"id":"S9","x":0.37,"y":0.84},{"id":"S9","x":0.49,"y":0.934},{"id":"S9","x":0.59,"y":0.934},{"id":"S9","x":0.72,"y":0.955},{"id":"S9","x":0.88,"y":0.975},{"id":"S9","x":0.98,"y":0.99},{"id":"S9","x":1.06,"y":0.909},{"id":"S9","x":1.07,"y":0.857},{"id":"S9","x":1.1,"y":0.834},{"id":"S9","x":1.15,"y":0.814},{"id":"S9","x":1.2,"y":0.834},{"id":"S9","x":1.25,"y":0.829},{"id":"S9","x":1.28,"y":0.9},{"id":"S9","x":1.32,"y":0.914},{"id":"S9","x":1.36,"y":0.863},{"id":"S9","x":1.44,"y":0.691},{"id":"S9","x":1.46,"y":0.651},{"id":"S9","x":1.49,"y":0.637},{"id":"S9","x":1.52,"y":0.623}
    ]
  },
  "encoding": {
    "x": {"field": "x", "type": "quantitative", "scale": {"domain": [0, 4], "nice": false, "zero": false},
      "axis": {"title": "Normalised rotation: θ/θₚ", "values": [0,0.25,0.5,0.75,1,1.25,1.5,1.75,2,2.25,2.5,2.75,3,3.25,3.5,3.75,4],
        "labelExpr": "round(datum.value*4) % 2 === 0 ? format(datum.value, '.1f') : ''",
        "tickSize": {"condition": {"test": "round(datum.value*4) % 2 === 0", "value": 7}, "value": 4},
        "titlePadding": 18}},
    "y": {"field": "y", "type": "quantitative", "scale": {"domain": [0, 1], "nice": false},
      "axis": {"title": "Normalised moment: M/Mₚ", "values": [0,0.1,0.2,0.3,0.4,0.5,0.6,0.7,0.8,0.9,1],
        "labelExpr": "round(datum.value*10) % 2 === 0 ? format(datum.value, '.1f') : ''",
        "tickSize": {"condition": {"test": "round(datum.value*10) % 2 === 0", "value": 7}, "value": 4},
        "titlePadding": 28}}
  },
  "resolve": {"scale": {"shape": "independent", "fill": "independent", "stroke": "independent"}},
  "layer": [
    {
      "data": {"name": "field"},
      "mark": {"type": "line", "stroke": "#c4c4c4", "strokeWidth": 1.4, "strokeDash": [8, 3, 2, 3], "clip": true},
      "encoding": {"detail": {"field": "curve", "type": "nominal"}}
    },
    {
      "data": {"name": "tests"},
      "transform": [{"filter": "datum.id !== 'S7' && datum.id !== 'S8'"}],
      "mark": {"type": "line", "stroke": "#000000", "strokeWidth": 1.6, "clip": true},
      "encoding": {"detail": {"field": "id", "type": "nominal"}}
    },
    {
      "data": {"name": "tests"},
      "transform": [{"filter": "datum.id === 'S8'"}],
      "mark": {"type": "line", "stroke": "#3c3c3c", "strokeWidth": 1.4, "clip": true},
      "encoding": {"detail": {"field": "id", "type": "nominal"}}
    },
    {
      "data": {"name": "tests"},
      "transform": [{"filter": "datum.id === 'S7'"}],
      "mark": {"type": "line", "stroke": "#7a7a7a", "strokeWidth": 1.8, "clip": true},
      "encoding": {"detail": {"field": "id", "type": "nominal"}}
    },
    {
      "data": {"name": "markers"},
      "transform": [{"lookup": "id", "from": {"data": {"name": "names"}, "key": "id", "fields": ["series"]}}],
      "mark": {"type": "point", "size": 40, "strokeWidth": 1, "opacity": 1, "clip": true},
      "encoding": {
        "stroke": {"field": "series", "type": "nominal", "legend": null,
          "scale": {"domain": ["ND saturated","ND + fibres saturated","ND + fibres water table 1.85m","WS saturated","WS with faster loading rate","ND water table 1.85m","ND + fibres water table 1.05m","ND with fast loading rate","WS water table 1.85m","Field tests  (after Défossez et al., 2021)"],
            "range": ["#000000","#000000","#000000","#7a7a7a","#111111","#000000","#000000","#000000","#3c3c3c","#bdbdbd"]}},
        "fill": {"field": "series", "type": "nominal", "legend": null,
          "scale": {"domain": ["ND saturated","ND + fibres saturated","ND + fibres water table 1.85m","WS saturated","WS with faster loading rate","ND water table 1.85m","ND + fibres water table 1.05m","ND with fast loading rate","WS water table 1.85m","Field tests  (after Défossez et al., 2021)"],
            "range": ["#000000","#ffffff","#ffffff","#7a7a7a","#ffffff","#ffffff","#ffffff","#ffffff","#ffffff","#ffffff"]}},
        "shape": {"field": "series", "type": "nominal", "legend": null,
          "scale": {"domain": ["ND saturated","ND + fibres saturated","ND + fibres water table 1.85m","WS saturated","WS with faster loading rate","ND water table 1.85m","ND + fibres water table 1.05m","ND with fast loading rate","WS water table 1.85m","Field tests  (after Défossez et al., 2021)"],
            "range": ["square","triangle-up","triangle-right","square","circle","square","diamond","circle","square","circle"]}}
      }
    },
    {
      "data": {"name": "markers"},
      "transform": [{"lookup": "id", "from": {"data": {"name": "names"}, "key": "id", "fields": ["series"]}}],
      "mark": {"type": "point", "size": 1, "opacity": 0},
      "encoding": {
        "stroke": {"field": "series", "type": "nominal",
          "scale": {"domain": ["ND saturated","ND + fibres saturated","ND + fibres water table 1.85m","WS saturated","WS with faster loading rate","ND water table 1.85m","ND + fibres water table 1.05m","ND with fast loading rate","WS water table 1.85m","Field tests  (after Défossez et al., 2021)"],
            "range": ["#000000","#000000","#000000","#6e6e6e","#111111","#000000","#000000","#000000","#3c3c3c","#bdbdbd"]}},
        "fill": {"field": "series", "type": "nominal",
          "scale": {"domain": ["ND saturated","ND + fibres saturated","ND + fibres water table 1.85m","WS saturated","WS with faster loading rate","ND water table 1.85m","ND + fibres water table 1.05m","ND with fast loading rate","WS water table 1.85m","Field tests  (after Défossez et al., 2021)"],
            "range": ["#000000","#ffffff","#ffffff","#7a7a7a","#ffffff","#ffffff","#ffffff","#ffffff","#ffffff","#ffffff"]}},
        "shape": {"field": "series", "type": "nominal",
          "scale": {"domain": ["ND saturated","ND + fibres saturated","ND + fibres water table 1.85m","WS saturated","WS with faster loading rate","ND water table 1.85m","ND + fibres water table 1.05m","ND with fast loading rate","WS water table 1.85m","Field tests  (after Défossez et al., 2021)"],
            "range": ["M-4.4,0H-0.8M0.8,0H4.4M-0.8,-0.8H0.8V0.8H-0.8Z","M-4.4,0H-0.52M0.52,0H4.4M0,-0.9L0.95,0.75L-0.95,0.75Z","M-4.4,0H-0.75M0.9,0H4.4M-0.75,-0.9L0.9,0L-0.75,0.9Z","M-4.4,0H-0.8M0.8,0H4.4M-0.8,-0.8H0.8V0.8H-0.8Z","M-4.4,0H-0.72M0.72,0H4.4M-0.72,0A0.72,0.72,0,1,0,0.72,0A0.72,0.72,0,1,0,-0.72,0Z","M-4.4,0H-0.8M0.8,0H4.4M-0.8,-0.8H0.8V0.8H-0.8Z","M-4.4,0H-0.95M0.95,0H4.4M-0.95,0L0,-0.95L0.95,0L0,0.95Z","M-4.4,0H-0.72M0.72,0H4.4M-0.72,0A0.72,0.72,0,1,0,0.72,0A0.72,0.72,0,1,0,-0.72,0Z","M-4.4,0H-0.8M0.8,0H4.4M-0.8,-0.8H0.8V0.8H-0.8Z","M-4.4,0H-2.8M-2.2,0H-1.9M-1.3,0H0.3M0.9,0H1.2M1.8,0H3.4M4,0H4.4"]}}
      }
    }
  ]
}
